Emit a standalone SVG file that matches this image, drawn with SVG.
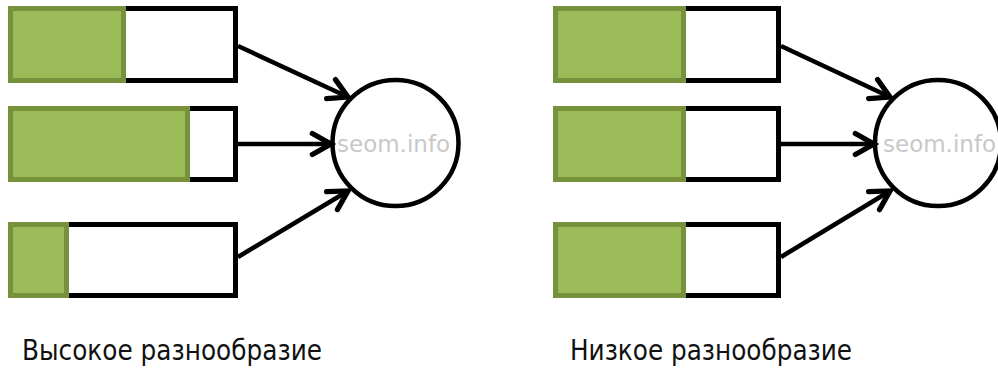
<svg xmlns="http://www.w3.org/2000/svg" width="998" height="369" viewBox="0 0 998 369">
  <style>
    .bar{fill:#ffffff;stroke:#000000;stroke-width:5}
    .fill{fill:#9bbb59;stroke:#76923c;stroke-width:5}
    .hub{fill:#ffffff;stroke:#000000;stroke-width:4.5}
    .wm{font-family:"DejaVu Sans",Verdana,sans-serif;font-size:23px;fill:#c8c8c8}
    .cap{font-family:"DejaVu Sans",Tahoma,sans-serif;font-size:28px;fill:#111111}
    .arr{stroke:#000000;stroke-width:4.5;fill:none;marker-end:url(#head)}
  </style>
  <defs>
    <marker id="head" markerUnits="userSpaceOnUse" markerWidth="28" markerHeight="28" refX="19" refY="12" orient="auto" viewBox="0 0 24 24">
      <path d="M3,3 L19,12 L3,21" fill="none" stroke="#000000" stroke-width="4.5" stroke-linecap="round" stroke-linejoin="miter"/>
    </marker>
  </defs>
  <rect width="998" height="369" fill="#ffffff"/>

  <g id="left-bar-1">
    <rect class="bar" x="10.5" y="8.5" width="225" height="72"/>
    <rect class="fill" x="10.5" y="8.5" width="113" height="72"/>
  </g>
  <g id="left-bar-2">
    <rect class="bar" x="10.5" y="108.5" width="225" height="71"/>
    <rect class="fill" x="10.5" y="108.5" width="177" height="71"/>
  </g>
  <g id="left-bar-3">
    <rect class="bar" x="10.5" y="224.5" width="225" height="71"/>
    <rect class="fill" x="10.5" y="224.5" width="56" height="71"/>
  </g>
  <g id="left-hub">
    <circle class="hub" cx="395.5" cy="143" r="63"/>
    <text class="wm" x="337" y="152">seom.info</text>
  </g>

  <g id="right-bar-1">
    <rect class="bar" x="555.5" y="8.5" width="223" height="72"/>
    <rect class="fill" x="555.5" y="8.5" width="128" height="72"/>
  </g>
  <g id="right-bar-2">
    <rect class="bar" x="555.5" y="108.5" width="223" height="71"/>
    <rect class="fill" x="555.5" y="108.5" width="128" height="71"/>
  </g>
  <g id="right-bar-3">
    <rect class="bar" x="555.5" y="224.5" width="223" height="71"/>
    <rect class="fill" x="555.5" y="224.5" width="128" height="71"/>
  </g>
  <g id="right-hub">
    <circle class="hub" cx="938" cy="143" r="63"/>
    <text class="wm" x="883" y="152">seom.info</text>
  </g>

  <g id="connectors">
    <line class="arr" x1="238" y1="46" x2="348" y2="97"/>
    <line class="arr" x1="238" y1="144" x2="331" y2="144"/>
    <line class="arr" x1="238" y1="257" x2="348" y2="191"/>
    <line class="arr" x1="781" y1="46" x2="890" y2="97"/>
    <line class="arr" x1="781" y1="144" x2="874" y2="144"/>
    <line class="arr" x1="781" y1="257" x2="890" y2="191"/>
  </g>

  <g id="captions">
    <text class="cap" x="22" y="360" textLength="300" lengthAdjust="spacingAndGlyphs">Высокое разнообразие</text>
    <text class="cap" x="570" y="360" textLength="282" lengthAdjust="spacingAndGlyphs">Низкое разнообразие</text>
  </g>
</svg>
